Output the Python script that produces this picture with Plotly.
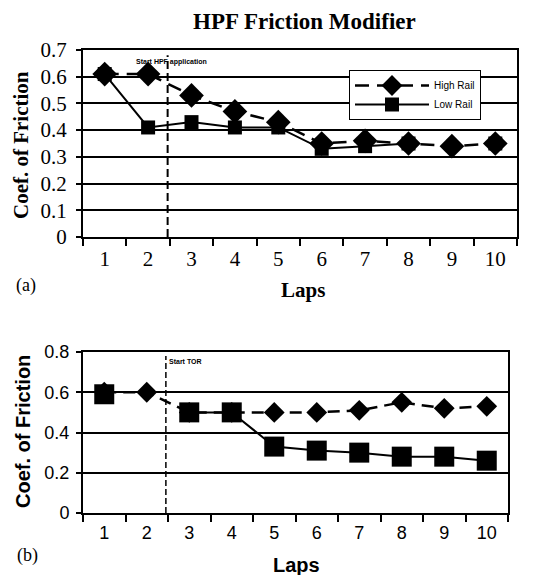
import plotly.graph_objects as go

laps = [1, 2, 3, 4, 5, 6, 7, 8, 9, 10]
lap_labels = ["1", "2", "3", "4", "5", "6", "7", "8", "9", "10"]

# (a) HPF Friction Modifier
hpf_high = [0.61, 0.61, 0.53, 0.47, 0.43, 0.35, 0.36, 0.35, 0.34, 0.35]
hpf_low = [0.61, 0.41, 0.43, 0.41, 0.41, 0.33, 0.34, 0.35, None, 0.35]

# (b) TOR
tor_high = [0.60, 0.60, 0.50, 0.50, 0.50, 0.50, 0.51, 0.55, 0.52, 0.53]
tor_low = [0.59, None, 0.50, 0.50, 0.33, 0.31, 0.30, 0.28, 0.28, 0.26]

top_yticks = [0, 0.1, 0.2, 0.3, 0.4, 0.5, 0.6, 0.7]
top_ylabels = ["0", "0.1", "0.2", "0.3", "0.4", "0.5", "0.6", "0.7"]
bot_yticks = [0, 0.2, 0.4, 0.6, 0.8]
bot_ylabels = ["0", "0.2", "0.4", "0.6", "0.8"]

start_line = 2.45

W, H = 558, 575
OFF = 8  # page body margin
def px(x):
    return (x - OFF) / W
def py(y):
    return 1 - (y - OFF) / H

serif = "Liberation Serif, Times New Roman, serif"
sans = "Liberation Sans, Arial, sans-serif"

fig = go.Figure()

# top panel traces
fig.add_trace(go.Scatter(x=laps, y=hpf_low, name="Low Rail", mode="lines+markers",
                         line=dict(color="black", width=2), connectgaps=False,
                         marker=dict(symbol="square", size=14, color="black"),
                         xaxis="x", yaxis="y"))
fig.add_trace(go.Scatter(x=laps, y=hpf_high, name="High Rail", mode="lines+markers",
                         line=dict(color="black", width=2.5, dash="14px,8px"),
                         marker=dict(symbol="diamond", size=19, color="black"),
                         xaxis="x", yaxis="y"))

# bottom panel traces
fig.add_trace(go.Scatter(x=laps, y=tor_high, name="High Rail", mode="lines+markers",
                         showlegend=False,
                         line=dict(color="black", width=2.5, dash="12px,7px"),
                         marker=dict(symbol="diamond", size=16, color="black"),
                         xaxis="x2", yaxis="y2"))
fig.add_trace(go.Scatter(x=laps, y=tor_low, name="Low Rail", mode="lines+markers",
                         showlegend=False, connectgaps=False,
                         line=dict(color="black", width=2),
                         marker=dict(symbol="square", size=20, color="black"),
                         xaxis="x2", yaxis="y2"))

minor_bounds = [i + 0.5 for i in range(0, 11)]

common_x = dict(range=[0.5, 10.5], tickvals=laps, ticktext=lap_labels, ticks="",
                showgrid=False, zeroline=False, showline=True, linecolor="black",
                linewidth=2, mirror=True, automargin=False, ticklabelstandoff=2,
                minor=dict(tickvals=minor_bounds, ticks="outside", ticklen=7,
                           tickcolor="black", tickwidth=2, showgrid=False))

fig.update_layout(
    template="none",
    width=W, height=H, margin=dict(l=0, r=0, t=0, b=0, pad=0, autoexpand=False),
    plot_bgcolor="white", paper_bgcolor="white",
    xaxis=dict(domain=[px(83), px(517)], anchor="y",
               tickfont=dict(family=serif, size=21, color="black"),
               **common_x),
    yaxis=dict(domain=[py(237), py(50)], anchor="x", range=[0, 0.7],
               tickvals=top_yticks, ticktext=top_ylabels,
               tickfont=dict(family=serif, size=21, color="black"),
               ticks="outside", ticklen=5, tickcolor="black", tickwidth=2,
               ticklabelstandoff=5,
               showgrid=True, gridcolor="black", gridwidth=1.5, automargin=False,
               zeroline=False, showline=True, linecolor="black", linewidth=2, mirror=True),
    xaxis2=dict(domain=[px(83), px(508)], anchor="y2",
                tickfont=dict(family=sans, size=18, color="black"),
                **common_x),
    yaxis2=dict(domain=[py(513), py(352)], anchor="x2", range=[0, 0.8],
                tickvals=bot_yticks, ticktext=bot_ylabels,
                tickfont=dict(family=sans, size=18, color="black"),
                ticks="outside", ticklen=5, tickcolor="black", tickwidth=2,
                ticklabelstandoff=3,
                showgrid=True, gridcolor="black", gridwidth=1.5, automargin=False,
                zeroline=False, showline=True, linecolor="black", linewidth=2, mirror=True),
    legend=dict(x=px(349), y=py(70), xanchor="left", yanchor="top",
                bordercolor="black", borderwidth=1, bgcolor="white",
                font=dict(family=sans, size=10, color="black"),
                traceorder="reversed", itemwidth=74, tracegroupgap=4),
    showlegend=True,
)

shapes = [
    dict(type="line", xref="x", yref="y", x0=start_line, x1=start_line, y0=0, y1=0.68,
         line=dict(color="black", width=2, dash="8px,4px")),
    dict(type="line", xref="x2", yref="y2", x0=start_line, x1=start_line, y0=0, y1=0.78,
         line=dict(color="black", width=1.5, dash="6px,3px")),
]
fig.update_layout(shapes=shapes)

def ann(text, x, y, font, angle=0, xanchor="center"):
    return dict(text=text, x=px(x), y=py(y), xref="paper", yref="paper",
                xanchor=xanchor, yanchor="middle", textangle=angle,
                showarrow=False, font=font)

annotations = [
    ann("<b>HPF Friction Modifier</b>", 304, 22, dict(family=serif, size=23, color="black")),
    ann("<b>Coef. of Friction</b>", 21, 145, dict(family=serif, size=21, color="black"), angle=-90),
    ann("<b>Laps</b>", 303, 290, dict(family=serif, size=21, color="black")),
    ann("(a)", 14, 286, dict(family=serif, size=18, color="black"), xanchor="left"),
    ann("<b>Start HPF application</b>", 134, 62, dict(family=sans, size=7, color="black"), xanchor="left"),
    ann("<b>Coef. of Friction</b>", 23, 432, dict(family=sans, size=20, color="black"), angle=-90),
    ann("<b>Laps</b>", 297, 565, dict(family=sans, size=20, color="black")),
    ann("(b)", 15, 555, dict(family=serif, size=18, color="black"), xanchor="left"),
    ann("<b>Start TOR</b>", 167, 361, dict(family=sans, size=7, color="black"), xanchor="left"),
]
fig.update_layout(annotations=annotations)

fig.write_html("out.html")
